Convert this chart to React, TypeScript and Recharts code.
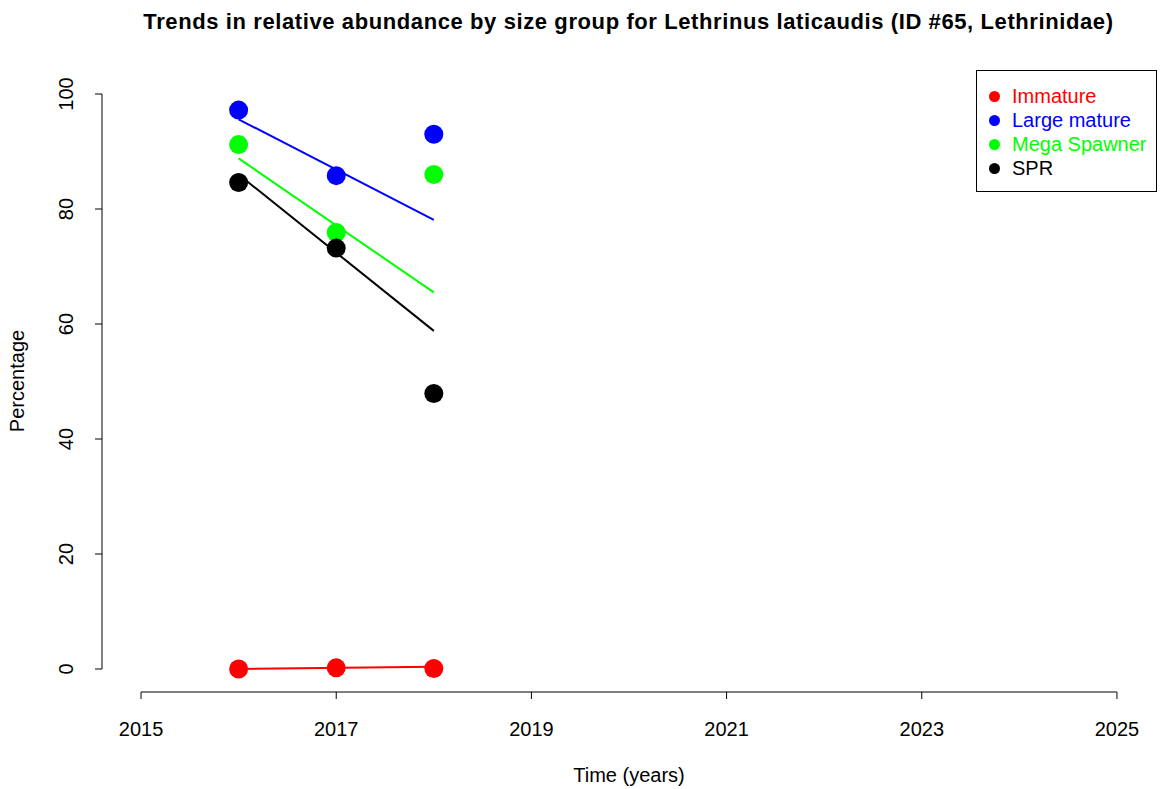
import React from "react";
import { ComposedChart, Line, XAxis, YAxis, ReferenceLine, Legend } from "recharts";

const FONT = "'Liberation Sans', Arial, Helvetica, sans-serif";

// observed relative abundance (%) per survey year
const years = [2016, 2017, 2018];
const immature = [0.0, 0.2, 0.1];
const largeMature = [97.2, 85.8, 93.0];
const megaSpawner = [91.2, 75.9, 86.0];
const spr = [84.6, 73.2, 47.9];

// fitted trend, evaluated at the first and last survey year
const fitYears = [2016, 2018];
const immatureFit = [0.0, 0.4];
const largeMatureFit = [95.6, 78.1];
const megaSpawnerFit = [88.8, 65.5];
const sprFit = [86.0, 58.8];

const xTicks = [2015, 2017, 2019, 2021, 2023, 2025];
const yTicks = [0, 20, 40, 60, 80, 100];

const series = [
  { key: "immature", name: "Immature", color: "#ff0000", values: immature, fit: immatureFit },
  { key: "largeMature", name: "Large mature", color: "#0000ff", values: largeMature, fit: largeMatureFit },
  { key: "megaSpawner", name: "Mega Spawner", color: "#00ff00", values: megaSpawner, fit: megaSpawnerFit },
  { key: "spr", name: "SPR", color: "#000000", values: spr, fit: sprFit },
];

const rows = years.map((year, i) => {
  const row: Record<string, number> = { year };
  series.forEach((s) => {
    row[s.key] = s.values[i];
    const j = fitYears.indexOf(year);
    if (j >= 0) row[s.key + "Fit"] = s.fit[j];
  });
  return row;
});

const YTick = (props: any) => {
  const { x, y, payload } = props;
  return (
    <text
      x={x}
      y={y}
      transform={`rotate(-90, ${x}, ${y})`}
      textAnchor="middle"
      fontSize={20}
      fontFamily={FONT}
      fill="#000"
    >
      {payload.value}
    </text>
  );
};

const LegendBox = () => (
  <div
    style={{
      border: "1px solid #000",
      background: "#fff",
      width: 181,
      height: 122,
      boxSizing: "border-box",
      paddingTop: 13,
      fontFamily: FONT,
      fontSize: 20,
    }}
  >
    {series.map((s) => (
      <div key={s.key} style={{ display: "flex", alignItems: "center", height: 24 }}>
        <span
          style={{
            display: "inline-block",
            width: 11,
            height: 11,
            borderRadius: "50%",
            background: s.color,
            marginLeft: 12,
            marginRight: 12,
          }}
        />
        <span style={{ color: s.color }}>{s.name}</span>
      </div>
    ))}
  </div>
);

export default function App() {
  return (
    <div style={{ position: "absolute", left: 0, top: 0, width: 1161, height: 789, background: "#fff", fontFamily: FONT }}>
      <div
        style={{
          position: "absolute",
          top: 9,
          left: 0,
          width: 1161,
          textAlign: "center",
          fontWeight: "bold",
          fontSize: 22,
          letterSpacing: 0.6,
          paddingLeft: 96,
          boxSizing: "border-box",
          whiteSpace: "nowrap",
        }}
      >
        Trends in relative abundance by size group for Lethrinus laticaudis (ID #65, Lethrinidae)
      </div>
      <div style={{ position: "absolute", top: 764, left: 102, width: 1054, textAlign: "center", fontSize: 20 }}>
        Time (years)
      </div>
      <div
        style={{
          position: "absolute",
          left: 17,
          top: 381,
          fontSize: 20,
          transform: "translate(-50%, -50%) rotate(-90deg)",
          whiteSpace: "nowrap",
        }}
      >
        Percentage
      </div>
      <ComposedChart
        width={1161}
        height={789}
        data={rows}
        margin={{ top: 71, right: 5, bottom: 37, left: 0 }}
        style={{ position: "absolute", left: 0, top: 0 }}
      >
        <XAxis
          dataKey="year"
          type="number"
          domain={[2014.6, 2025.4]}
          ticks={xTicks}
          interval={0}
          height={60}
          axisLine={false}
          tickSize={7}
          tickMargin={23}
          tickLine={{ stroke: "#000" }}
          tick={{ fill: "#000", fontSize: 20, fontFamily: FONT }}
        />
        <YAxis
          type="number"
          domain={[-4, 104]}
          ticks={yTicks}
          interval={0}
          width={102}
          axisLine={false}
          tickSize={7}
          tickMargin={22}
          tickLine={{ stroke: "#000" }}
          tick={<YTick />}
        />
        <ReferenceLine
          segment={[{ x: 2014.6, y: 0 }, { x: 2014.6, y: 100 }]}
          stroke="#000"
          ifOverflow="visible"
        />
        <ReferenceLine
          segment={[{ x: 2015, y: -4 }, { x: 2025, y: -4 }]}
          stroke="#000"
          ifOverflow="visible"
        />
        {series.map((s) => (
          <Line
            key={s.key + "Fit"}
            dataKey={s.key + "Fit"}
            stroke={s.color}
            strokeWidth={2}
            dot={false}
            activeDot={false}
            connectNulls
            isAnimationActive={false}
          />
        ))}
        {series.map((s) => (
          <Line
            key={s.key}
            dataKey={s.key}
            stroke="none"
            dot={{ r: 9.5, fill: s.color, stroke: "none" }}
            activeDot={false}
            isAnimationActive={false}
          />
        ))}
        <Legend
          layout="vertical"
          align="center"
          verticalAlign="middle"
          content={<LegendBox />}
          wrapperStyle={{ left: 976, top: 70, width: 181, height: 122 }}
        />
      </ComposedChart>
    </div>
  );
}
